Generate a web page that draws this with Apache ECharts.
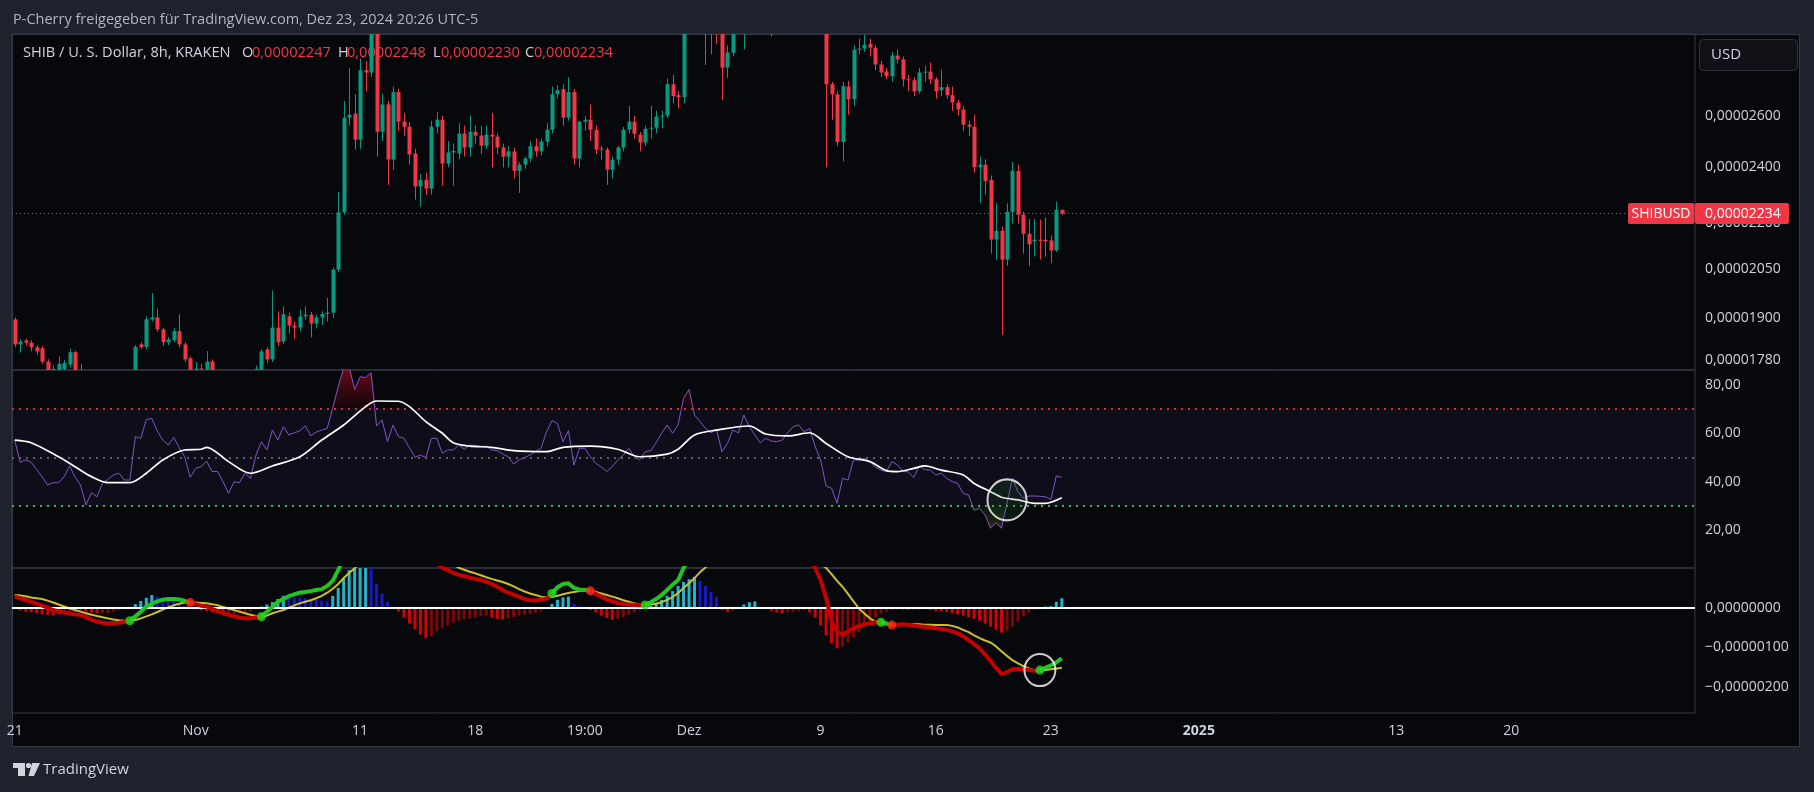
<!DOCTYPE html>
<html>
<head>
<meta charset="utf-8">
<title>SHIB / U. S. Dollar</title>
<script src="https://cdn.jsdelivr.net/npm/echarts@6.0.0/dist/echarts.min.js"></script>
<style>
html,body{margin:0;padding:0;background:#1e222d;}
#chart{width:1814px;height:792px;}
</style>
</head>
<body>
<div id="chart"></div>
<script>
// ---------------- DATA (prices in units of 1e-8 USD) ----------------
const headerText = 'P-Cherry freigegeben für TradingView.com, Dez 23, 2024 20:26 UTC-5';
const symbolText = 'SHIB / U. S. Dollar, 8h, KRAKEN';
const symbolShort = 'SHIBUSD';
const firstBarUTCminus5 = [2024, 9, 21, 3, 0];   // first 8h bar (local time UTC-5)
const barHours = 8;
const slotCount = 307;                          // bars + empty future slots on the time axis

const timeTicks = [
  ['2024-10-21 03:00', '21'], ['2024-11-01 03:00', 'Nov'], ['2024-11-11 03:00', '11'],
  ['2024-11-18 03:00', '18'], ['2024-11-24 19:00', '19:00'], ['2024-12-01 03:00', 'Dez'],
  ['2024-12-09 03:00', '9'], ['2024-12-16 03:00', '16'], ['2024-12-23 03:00', '23'],
  ['2025-01-01 03:00', '2025'], ['2025-01-13 03:00', '13'], ['2025-01-20 03:00', '20']
];

// [open, close, low, high]
const ohlc = [
 [1896,1824,1816,1902],[1824,1832,1801,1838],[1835,1829,1820,1840],[1829,1816,1805,1836],[1816,1804,1795,1822],
 [1813,1776,1770,1820],[1776,1748,1740,1782],[1748,1756,1735,1765],[1750,1770,1740,1790],[1755,1772,1745,1780],
 [1768,1802,1760,1812],[1802,1750,1740,1806],[1750,1720,1705,1770],[1720,1705,1690,1735],[1705,1712,1695,1725],
 [1712,1698,1685,1720],[1698,1710,1690,1722],[1710,1725,1700,1740],[1725,1718,1705,1745],[1718,1735,1710,1748],
 [1735,1728,1715,1750],[1728,1745,1720,1752],[1745,1817,1740,1822],[1824,1816,1810,1830],[1817,1896,1810,1905],
 [1896,1902,1890,1975],[1902,1867,1860,1928],[1867,1830,1820,1872],[1830,1838,1822,1845],[1836,1862,1830,1870],
 [1862,1824,1815,1911],[1824,1782,1775,1830],[1785,1750,1735,1790],[1750,1757,1740,1775],[1757,1755,1740,1770],
 [1754,1776,1745,1805],[1776,1745,1730,1782],[1745,1720,1710,1752],[1720,1700,1690,1728],[1700,1688,1670,1710],
 [1688,1705,1680,1715],[1705,1695,1685,1718],[1695,1718,1688,1730],[1718,1740,1710,1752],[1742,1756,1730,1765],
 [1752,1804,1745,1810],[1810,1782,1772,1815],[1782,1872,1775,1983],[1872,1830,1820,1920],[1832,1911,1825,1935],
 [1905,1878,1855,1915],[1878,1872,1840,1890],[1872,1905,1862,1925],[1905,1910,1895,1935],[1910,1884,1844,1918],
 [1884,1902,1870,1910],[1902,1912,1880,1920],[1912,1916,1890,1960],[1916,2048,1900,2055],[2048,2238,2040,2311],
 [2238,2592,2230,2660],[2592,2604,2560,2800],[2608,2505,2467,2688],[2505,2790,2470,2840],[2790,2780,2700,2830],
 [2780,2975,2760,3010],[2975,2536,2440,3000],[2536,2646,2500,2690],[2646,2429,2336,2660],[2429,2697,2391,2720],
 [2697,2576,2540,2710],[2576,2556,2520,2610],[2556,2448,2410,2575],[2452,2330,2283,2470],[2330,2354,2258,2375],
 [2354,2322,2300,2380],[2322,2556,2300,2580],[2556,2584,2530,2615],[2584,2414,2333,2600],[2414,2456,2400,2500],
 [2456,2462,2333,2490],[2452,2529,2430,2570],[2529,2475,2440,2560],[2475,2536,2440,2600],[2536,2521,2490,2560],
 [2521,2482,2450,2560],[2482,2525,2470,2560],[2525,2517,2400,2612],[2517,2475,2450,2530],[2475,2440,2400,2490],
 [2440,2460,2400,2480],[2460,2387,2360,2475],[2387,2410,2307,2420],[2410,2433,2395,2440],[2433,2480,2420,2500],
 [2480,2460,2440,2510],[2460,2498,2445,2510],[2498,2544,2480,2570],[2544,2688,2530,2720],[2688,2705,2670,2725],
 [2709,2592,2560,2730],[2592,2697,2580,2760],[2697,2433,2410,2710],[2433,2576,2400,2580],[2576,2584,2540,2600],
 [2584,2544,2500,2646],[2544,2467,2450,2560],[2471,2467,2430,2480],[2467,2391,2336,2475],[2391,2429,2360,2440],
 [2429,2475,2410,2480],[2475,2544,2460,2555],[2544,2576,2530,2640],[2576,2528,2510,2600],[2525,2494,2460,2535],
 [2494,2548,2480,2560],[2548,2552,2510,2640],[2552,2596,2530,2620],[2596,2600,2550,2620],[2600,2730,2590,2755],
 [2730,2680,2650,2770],[2684,2676,2630,2700],[2676,2990,2650,3020],[2990,3060,2960,3120],[3060,3130,3020,3200],
 [3130,3080,3010,3180],[3080,2990,2813,3110],[2990,3030,2860,3090],[3030,2980,2905,3070],[2980,2801,2665,3000],
 [2801,2868,2757,2900],[2866,3050,2850,3080],[3050,3010,2990,3090],[3010,3140,2881,3180],[3140,3180,3100,3250],
 [3180,3150,3090,3230],[3150,3210,3120,3260],[3210,3170,3100,3280],[3170,3090,2940,3190],[3090,3150,3050,3200],
 [3150,3220,3120,3270],[3220,3260,3180,3310],[3260,3300,3230,3340],[3300,3240,3200,3330],[3240,3280,3210,3320],
 [3280,3220,3150,3300],[3220,3150,3080,3240],[3150,3080,2960,3170],[3080,2730,2400,3100],[2730,2688,2584,2740],
 [2688,2496,2480,2700],[2496,2722,2422,2740],[2720,2667,2604,2745],[2667,2880,2640,2900],[2880,2885,2860,2930],
 [2885,2902,2870,2948],[2906,2889,2850,2930],[2889,2815,2790,2900],[2815,2780,2760,2830],[2785,2764,2751,2800],
 [2764,2854,2740,2870],[2854,2837,2820,2880],[2837,2751,2720,2850],[2751,2747,2700,2770],[2747,2700,2680,2760],
 [2700,2780,2690,2800],[2780,2784,2740,2810],[2784,2751,2730,2823],[2751,2700,2670,2760],[2705,2718,2680,2793],
 [2718,2684,2670,2730],[2684,2654,2620,2720],[2654,2625,2600,2665],[2625,2564,2540,2640],[2564,2556,2520,2580],
 [2556,2400,2380,2604],[2400,2410,2272,2440],[2410,2350,2300,2430],[2354,2146,2100,2370],[2146,2175,2080,2270],
 [2175,2080,1852,2190],[2080,2240,2060,2270],[2240,2387,2200,2420],[2387,2230,2200,2410],[2230,2165,2100,2240],
 [2165,2130,2060,2215],[2140,2145,2090,2215],[2145,2143,2080,2213],[2145,2140,2090,2220],[2143,2110,2070,2160],
 [2110,2247,2105,2276],[2247,2234,2230,2248]
];

const rsi = [
 57,48,49,48,45,42,38.6,39.6,39.6,42,
 46.5,42,38.6,30.4,35.5,33.8,39.3,41,42.8,43.5,
 40.7,40.7,58.6,57.9,65.7,66.1,61,57.2,55.1,58.3,
 54,50.3,41.8,45.5,46.2,48.5,44.2,44.2,40,35.2,
 40,39.6,43.5,41.4,51,56.5,53.1,61.3,57.2,62.7,
 59.3,60.2,61,63,58.9,60.5,61.3,62,70.3,79.2,
 87,87.5,78.1,83.3,83,85,63,65.5,56.5,63.4,
 58.6,57.9,54,50.1,51,50,57.9,57.9,51.7,53.1,
 53.1,55.1,53.4,55.1,55,54.5,54.7,53.1,52.8,51.5,
 50.3,47.3,49,50,51,52.5,53.8,60.6,65.2,64.1,
 56.5,61.1,46.9,53.8,53.8,50.3,47.6,46,44.2,46.2,
 49,51,53.8,50.3,49,52.4,52.8,56.1,60,63.4,
 60,63.4,74.4,78.1,67.5,64.8,62,60.2,61.6,52.4,
 55.8,61.3,60.2,67.5,62.7,59.3,56.1,57.9,56.8,56.5,
 57.2,60.2,62.7,63.4,60.6,62,54.5,49,38.2,37.3,
 31.1,41.4,40.7,49,49,49.6,48.3,46,44.8,44.2,
 48.3,47,44.5,44,41.8,46.5,45,44.8,42.8,43.5,
 41.4,40,39.3,35.2,34.5,28.3,29,26.3,20.8,23.1,
 20.8,31.1,41.4,35.9,33.2,34.1,34.1,34,33.8,32.7,
 42.4,41.8
];

// RSI moving average, read as [bar, value]
const rsiMA = [
 [0,57.2],[3,56.1],[8,50.3],[11,46.2],[14,42.1],[17,39.6],[21,39.6],[24,43.5],[27,49],[31,53.1],
 [34,53.4],[35,54.2],[39,48.3],[43,43.5],[47,46.5],[52,50.3],[56,57.2],[60,63.4],[64,71],[66,73.3],
 [70,73.2],[72,71],[75,64.8],[78,60],[80,56.1],[83,54.7],[87,54.2],[91,52.8],[97,52.4],[100,54.2],
 [105,54.7],[110,53.4],[114,50.3],[119,51.4],[121,53.4],[124,59.3],[128,61.3],[134,63],[137,59.7],[141,58.9],
 [145,60.2],[148,55.8],[152,50.3],[156,48.3],[159,44.6],[161,44.2],[164,45.5],[166,46.5],[169,44.8],[173,42.8],
 [175,39.3],[178,35.9],[180,33.6],[183,32.5],[186,31.1],[188,31.1],[191,33.4]
];
const rsiLevels = [70, 50, 30];

// MACD (units of 1e-8)
const macd = [
 28,24,20,15,10,5,0,-6,-9,-12,
 -15,-17,-18,-24,-30,-35,-38,-40,-39,-38,
 -36,-33,-22,-10,3,10,16,20,22,22,
 21,17,13,9,5,3,-3,-8,-14,-18,
 -22,-25,-27,-27,-25,-23,-10,2,15,22,
 29,34,38,40,42,45,47,55,68,95,
 125,150,165,185,200,215,222,226,225,220,
 212,200,186,170,155,140,125,112,101,95,
 88,83,80,76,73,70,66,60,53,45,
 38,33,28,22,19,18,20,23,36,52,
 60,62,50,46,45,43,35,28,21,16,
 12,9,8,7,6,7,14,22,32,45,
 58,70,100,125,145,155,160,165,168,160,
 158,165,168,170,172,175,176,175,170,168,
 166,165,163,155,145,125,101,70,25,-35,
 -60,-69,-60,-52,-46,-42,-40,-37,-37,-40,
 -44,-43,-42,-43,-45,-47,-48,-50,-52,-54,
 -56,-60,-65,-72,-82,-92,-103,-118,-135,-152,
 -168,-163,-156,-155,-156,-158,-160,-158,-152,-146,
 -138,-128
];
const signal = [
 32,31,29,26,24,22,18,13,8,3,
 -2,-6,-10,-14,-18,-21,-24,-27,-30,-32,
 -33,-33,-31,-27,-22,-17,-11,-5,1,6,
 10,13,14,13,12,11,9,6,2,-2,
 -6,-10,-14,-18,-21,-24,-20,-14,-10,-6,
 0,6,11,15,19,24,30,38,48,60,
 75,88,100,112,125,138,150,160,168,175,
 180,183,184,183,180,175,165,150,135,122,
 110,101,96,91,87,82,77,73,69,65,
 60,54,47,41,36,32,28,26,27,30,
 34,37,40,42,44,44,40,36,32,28,
 24,19,15,11,8,7,8,10,14,20,
 27,37,50,62,75,90,102,112,122,130,
 136,141,146,150,154,158,161,163,164,165,
 165,165,165,164,160,150,135,110,101,85,
 68,53,35,16,-2,-15,-27,-35,-39,-41,
 -42,-42,-41,-41,-41,-42,-43,-43,-44,-44,
 -44,-46,-50,-56,-62,-70,-77,-83,-88,-98,
 -110,-122,-133,-141,-148,-154,-158,-160,-158,-156,
 -154,-152
];
const hist = [
 -4,-7,-9,-11,-14,-17,-18,-19,-17,-15,
 -13,-11,-8,-10,-12,-14,-14,-13,-9,-6,
 -3,2,9,17,25,32,28,25,21,16,
 11,4,-2,-4,-7,-8,-12,-14,-16,-16,
 -16,-15,-13,-9,-4,3,8,14,22,30,
 28,26,25,24,22,20,18,16,30,50,
 75,95,110,115,118,100,60,35,15,2,
 -10,-25,-40,-55,-68,-77,-72,-60,-52,-45,
 -38,-33,-30,-28,-25,-22,-20,-24,-28,-30,
 -27,-24,-20,-18,-16,-13,-9,-4,10,20,
 26,28,10,4,-2,-6,-12,-20,-26,-31,
 -28,-24,-18,-12,-6,-2,5,12,20,30,
 42,55,65,72,78,68,55,40,28,-6,
 -10,-8,-4,8,14,16,2,-2,-8,-12,
 -15,-12,-10,-8,-6,-12,-25,-45,-70,-90,
 -103,-98,-88,-75,-62,-48,-35,-25,-15,-10,
 -6,-4,-5,-6,-5,-5,-4,-6,-8,-9,
 -11,-14,-17,-20,-24,-28,-33,-40,-48,-56,
 -63,-60,-48,-35,-22,-12,-5,0,3,4,
 15,24
];

// hand-drawn ellipses: [bar, value]
const rsiCircle = [181, 32.5];
const macdCircle = [187, -158];

const priceTicks = [2600, 2400, 2200, 2050, 1900, 1780];
const rsiTicks = [80, 60, 40, 20];
const macdTicks = [0, -100, -200];

// ---------------- CHART ----------------
const FONT = '"Open Sans", Roboto, "Noto Sans", sans-serif';
const TXT = '#d1d4dc';
const UP = '#089981', DOWN = '#f23645';
const PANE = '#07080c', BORDER = '#363a45';
const LG = '14.6px ' + FONT;

function pad(n){ return String(n).padStart(2, '0'); }
const t0 = Date.UTC(...firstBarUTCminus5);
const categories = [];
for (let i = 0; i < slotCount; i++) {
  const d = new Date(t0 + i * barHours * 3600e3);
  categories.push(d.getUTCFullYear() + '-' + pad(d.getUTCMonth() + 1) + '-' + pad(d.getUTCDate()) + ' ' + pad(d.getUTCHours()) + ':' + pad(d.getUTCMinutes()));
}
const tickMap = new Map(timeTicks);

function fmtPrice(v){ return (v * 1e-8).toFixed(8).replace('.', ','); }
function fmtSigned(v){ return (v < 0 ? '\u2212' : '') + fmtPrice(Math.abs(v)); }

const last = ohlc[ohlc.length - 1];
const lastClose = last[1];
const lastColor = last[1] >= last[0] ? UP : DOWN;

const candleData = ohlc.map((d, i) => [i, d[0], d[1], d[2], d[3]]);

function renderCandle(params, api) {
  const i = api.value(0), o = api.value(1), c = api.value(2), l = api.value(3), h = api.value(4);
  const pO = api.coord([i, o]), pC = api.coord([i, c]), pL = api.coord([i, l]), pH = api.coord([i, h]);
  const color = c >= o ? UP : DOWN;
  const cx = Math.round(pO[0]) + 0.5;
  const top = Math.min(pO[1], pC[1]);
  const bh = Math.max(Math.abs(pO[1] - pC[1]), 1);
  return {
    type: 'group',
    children: [
      { type: 'line', shape: { x1: cx, y1: pH[1], x2: cx, y2: pL[1] }, style: { stroke: color, lineWidth: 1 } },
      { type: 'rect', shape: { x: cx - 2, y: top, width: 4, height: bh }, style: { fill: color } }
    ]
  };
}

// histogram colours from direction / sign
const histData = hist.map((v, i) => {
  const prev = i > 0 ? hist[i - 1] : v;
  let c;
  if (v >= 0) c = v >= prev ? '#22b5c9' : '#1818c4';
  else c = v < prev ? '#d50000' : '#7d0707';
  return { value: v, itemStyle: { color: c } };
});

// MACD line colour pieces + cross dots
const MUP = '#22c322', MDN = '#c40000';
const macdPieces = [];
let from = -10, state = macd[0] >= signal[0];
const crossDots = [];
for (let i = 1; i < macd.length; i++) {
  const s = macd[i] >= signal[i];
  if (s !== state) {
    macdPieces.push({ gte: from, lt: i - 0.5, color: state ? MUP : MDN });
    from = i - 0.5; state = s;
    crossDots.push({ value: [i, macd[i]], itemStyle: { color: s ? '#1ee01e' : '#ff2a1a' } });
  }
}
macdPieces.push({ gte: from, lte: 100000, color: state ? MUP : MDN });

const obBase = rsi.map(() => rsiLevels[0]);
const obFill = rsi.map(v => Math.max(v - rsiLevels[0], 0));
const osBase = rsi.map(v => Math.min(v, rsiLevels[2]));
const osFill = rsi.map(v => rsiLevels[2] - Math.min(v, rsiLevels[2]));

const xBase = {
  type: 'category', data: categories, boundaryGap: true,
  axisLine: { show: false }, axisTick: { show: false }, splitLine: { show: false },
  axisLabel: { show: false }
};
const yCommon = {
  position: 'right', axisLine: { show: false }, axisTick: { show: false }, splitLine: { show: false }, scale: false
};
const lblStyle = { color: TXT, fontSize: 14, fontFamily: FONT, margin: 10 };

const gridCommon = { left: 12, right: 119, show: true, borderColor: BORDER, borderWidth: 1, backgroundColor: 'transparent', containLabel: false, outerBoundsMode: 'none' };

function lgText(id, x, text, fill) {
  return { type: 'text', id: id, x: x, y: 53, z: 1, silent: true,
    style: { text: text, fill: fill, font: LG, verticalAlign: 'middle' } };
}

const option = {
  backgroundColor: '#1e222d',
  animation: false,
  textStyle: { fontFamily: FONT },
  grid: [
    Object.assign({ top: 34, height: 336 }, gridCommon),
    Object.assign({ top: 370, height: 198 }, gridCommon),
    Object.assign({ top: 568, height: 145 }, gridCommon)
  ],
  xAxis: [
    Object.assign({ gridIndex: 0 }, xBase),
    Object.assign({ gridIndex: 1 }, xBase),
    Object.assign({}, xBase, {
      gridIndex: 2,
      axisLabel: {
        show: true, color: TXT, fontSize: 14, fontFamily: FONT, margin: 11,
        interval: (idx, val) => tickMap.has(val),
        formatter: (val) => {
          const t = tickMap.get(val) || '';
          return /^\d{4}$/.test(t) ? '{b|' + t + '}' : t;
        },
        rich: { b: { fontWeight: 'bold', color: TXT, fontSize: 14, fontFamily: FONT } }
      }
    })
  ],
  yAxis: [
    Object.assign({ gridIndex: 0, type: 'log', logBase: 10, min: 1753, max: 2951,
      axisLabel: Object.assign({ customValues: priceTicks, formatter: fmtPrice }, lblStyle) }, yCommon),
    Object.assign({ gridIndex: 1, type: 'value', min: 4.4, max: 86.1,
      axisLabel: Object.assign({ customValues: rsiTicks, formatter: v => v.toFixed(2).replace('.', ',') }, lblStyle) }, yCommon),
    Object.assign({ gridIndex: 2, type: 'value', min: -266.6, max: 100.5,
      axisLabel: Object.assign({ customValues: macdTicks, formatter: fmtSigned }, lblStyle) }, yCommon)
  ],
  visualMap: [{
    type: 'piecewise', show: false, seriesIndex: 11, dimension: 0, pieces: macdPieces
  }],
  series: [
    { // 0 candles (custom so that they are clipped to the price pane)
      type: 'custom', xAxisIndex: 0, yAxisIndex: 0, data: candleData, clip: true,
      encode: { x: 0, y: [1, 2, 3, 4] }, renderItem: renderCandle, silent: true,
      markLine: {
        silent: true, symbol: 'none', animation: false,
        label: { show: false },
        lineStyle: { color: lastColor, type: [1, 3], width: 1 },
        data: [{ yAxis: lastClose }]
      }
    },
    { // 1 overbought base
      type: 'line', xAxisIndex: 1, yAxisIndex: 1, data: obBase, stack: 'ob', symbol: 'none',
      lineStyle: { opacity: 0 }, silent: true
    },
    { // 2 overbought fill
      type: 'line', xAxisIndex: 1, yAxisIndex: 1, data: obFill, stack: 'ob', symbol: 'none',
      lineStyle: { opacity: 0 }, silent: true,
      areaStyle: { color: new echarts.graphic.LinearGradient(0, 0, 0, 1, [
        { offset: 0, color: 'rgba(200,10,35,0.85)' }, { offset: 1, color: 'rgba(120,0,20,0.15)' }]) }
    },
    { // 3 oversold base
      type: 'line', xAxisIndex: 1, yAxisIndex: 1, data: osBase, stack: 'os', symbol: 'none',
      lineStyle: { opacity: 0 }, silent: true
    },
    { // 4 oversold fill
      type: 'line', xAxisIndex: 1, yAxisIndex: 1, data: osFill, stack: 'os', symbol: 'none',
      lineStyle: { opacity: 0 }, silent: true,
      areaStyle: { color: new echarts.graphic.LinearGradient(0, 0, 0, 1, [
        { offset: 0, color: 'rgba(40,140,40,0.15)' }, { offset: 1, color: 'rgba(150,90,30,0.45)' }]) }
    },
    { // 5 RSI
      type: 'line', xAxisIndex: 1, yAxisIndex: 1, data: rsi, symbol: 'none', z: 4,
      lineStyle: { color: '#7e57c2', width: 1 },
      markArea: { silent: true, itemStyle: { color: 'rgba(126,87,194,0.07)' },
        data: [[{ yAxis: rsiLevels[2] }, { yAxis: rsiLevels[0] }]] },
      markLine: {
        silent: true, symbol: 'none', label: { show: false },
        data: [
          { yAxis: rsiLevels[0], lineStyle: { color: '#d32f2f', type: [2, 5], width: 2 } },
          { yAxis: rsiLevels[1], lineStyle: { color: '#5d606b', type: [2, 5], width: 2 } },
          { yAxis: rsiLevels[2], lineStyle: { color: '#4caf50', type: [2, 5], width: 2 } }
        ]
      }
    },
    { // 6 RSI MA
      type: 'line', xAxisIndex: 1, yAxisIndex: 1, data: rsiMA, symbol: 'none', smooth: 0.3, z: 5,
      lineStyle: { color: '#ffffff', width: 1.7 }
    },
    { // 7 RSI ellipse
      type: 'scatter', xAxisIndex: 1, yAxisIndex: 1, data: [rsiCircle], symbol: 'circle', symbolSize: [39, 41], z: 8,
      itemStyle: { color: 'rgba(30,110,50,0.22)', borderColor: '#ffffff', borderWidth: 2 }, silent: true
    },
    { // 8 histogram
      type: 'bar', xAxisIndex: 2, yAxisIndex: 2, data: histData, barWidth: 3, z: 2,
      markLine: {
        silent: true, symbol: 'none', label: { show: false },
        lineStyle: { color: '#ffffff', type: 'solid', width: 2 },
        data: [{ yAxis: 0 }]
      }
    },
    { // 9 signal
      type: 'line', xAxisIndex: 2, yAxisIndex: 2, data: signal, symbol: 'none', z: 3,
      lineStyle: { color: '#cbbf2c', width: 2 }
    },
    { // 10 cross dots
      type: 'scatter', xAxisIndex: 2, yAxisIndex: 2, data: crossDots, symbolSize: 9, z: 6, silent: true
    },
    { // 11 MACD line (colour pieces)
      type: 'line', xAxisIndex: 2, yAxisIndex: 2, data: macd, symbol: 'none', z: 5,
      lineStyle: { width: 4 }
    },
    { // 12 MACD ellipse
      type: 'scatter', xAxisIndex: 2, yAxisIndex: 2, data: [macdCircle], symbol: 'circle', symbolSize: [31, 32], z: 8,
      itemStyle: { color: 'rgba(0,0,0,0)', borderColor: '#ffffff', borderWidth: 2 }, silent: true
    }
  ],
  graphic: { elements: [
    { type: 'rect', id: 'frame', z: -10, silent: true,
      shape: { x: 12.5, y: 34.5, width: 1787, height: 712 },
      style: { fill: PANE, stroke: BORDER, lineWidth: 1 } },
    { type: 'text', id: 'hdr', x: 13, y: 20, silent: true,
      style: { text: headerText, fill: '#b2b5be', font: '14.5px ' + FONT, verticalAlign: 'middle' } },
    lgText('lgT', 23, symbolText, TXT),
    lgText('lgO', 242, 'O', TXT),
    lgText('lgOv', 252, fmtPrice(last[0]), lastColor),
    lgText('lgH', 338, 'H', TXT),
    lgText('lgHv', 347, fmtPrice(last[3]), lastColor),
    lgText('lgL', 433, 'L', TXT),
    lgText('lgLv', 441, fmtPrice(last[2]), lastColor),
    lgText('lgC', 525, 'C', TXT),
    lgText('lgCv', 534, fmtPrice(last[1]), lastColor),
    { type: 'rect', id: 'usdBox', silent: true,
      shape: { x: 1699.5, y: 39.5, width: 98, height: 31, r: 4 },
      style: { fill: '#0f1116', stroke: '#2f333e', lineWidth: 1 } },
    { type: 'text', id: 'usd', x: 1711, y: 55, silent: true,
      style: { text: 'USD', fill: TXT, font: '15px ' + FONT, verticalAlign: 'middle' } },
    { type: 'rect', id: 'tvT1', silent: true, shape: { x: 13, y: 763, width: 12, height: 5 }, style: { fill: '#d1d4dc' } },
    { type: 'rect', id: 'tvT2', silent: true, shape: { x: 18, y: 763, width: 7, height: 13 }, style: { fill: '#d1d4dc' } },
    { type: 'circle', id: 'tvDot', silent: true, shape: { cx: 28.5, cy: 765.5, r: 2.6 }, style: { fill: '#d1d4dc' } },
    { type: 'polygon', id: 'tvSl', silent: true, shape: { points: [[32, 763], [40, 763], [34, 776], [28.5, 776]] }, style: { fill: '#d1d4dc' } },
    { type: 'text', id: 'tvTxt', x: 43, y: 770, silent: true,
      style: { text: 'TradingView', fill: '#d1d4dc', font: '15px ' + FONT, verticalAlign: 'middle' } }
  ] }
};

const chart = echarts.init(document.getElementById('chart'), null, { width: 1814, height: 792 });
chart.setOption(option);

// price tags at the last close, positioned via the price scale
const yPix = chart.convertToPixel({ yAxisIndex: 0 }, lastClose);
chart.setOption({ graphic: { elements: [
  { type: 'rect', id: 'tagSym', z: 20, silent: true,
    shape: { x: 1628, y: yPix - 10.5, width: 66.5, height: 21, r: 2 }, style: { fill: lastColor } },
  { type: 'text', id: 'tagSymT', z: 21, x: 1661, y: yPix, silent: true,
    style: { text: symbolShort, fill: '#ffffff', font: '14px ' + FONT, align: 'center', verticalAlign: 'middle' } },
  { type: 'rect', id: 'tagPx', z: 20, silent: true,
    shape: { x: 1695, y: yPix - 10.5, width: 94, height: 21, r: 2 }, style: { fill: lastColor } },
  { type: 'text', id: 'tagPxT', z: 21, x: 1705, y: yPix, silent: true,
    style: { text: fmtPrice(lastClose), fill: '#ffffff', font: '14px ' + FONT, verticalAlign: 'middle' } }
] } });
</script>
</body>
</html>
